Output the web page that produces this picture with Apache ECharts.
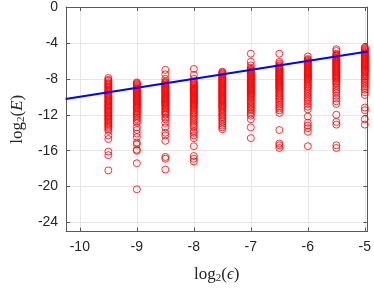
<!DOCTYPE html>
<html><head><meta charset="utf-8">
<script src="https://cdn.jsdelivr.net/npm/echarts@6/dist/echarts.min.js"></script>
<style>html,body{margin:0;padding:0;background:#fff}#c{width:374px;height:289px}</style>
</head><body><div id="c"></div>
<script>
// x positions (log2 eps) of each column
var xCols = [-9.5, -9, -8.5, -8, -7.5, -7, -6.5, -6, -5.5, -5];
// y values (log2 E) per column
var colA = [-7.9,-8.1,-8.2,-8.35,-8.5,-8.6,-8.7,-8.85,-8.95,-9.05,-9.2,-9.3,-9.4,-9.5,-9.65,-9.75,-9.85,-9.95,-10.05,-10.15,-10.3,-10.4,-10.5,-10.6,-10.7,-10.85,-10.95,-11.05,-11.15,-11.25,-11.4,-11.5,-11.6,-11.7,-11.8,-11.95,-12.05,-12.15,-12.25,-12.4,-12.5,-12.6,-12.75,-12.9,-13.0,-13.15,-13.3,-13.45,-13.6,-13.8,-14.3,-14.7,-16.1,-16.5,-18.2];
var colB = [-8.4,-8.5,-8.6,-8.7,-8.8,-8.9,-9.0,-9.1,-9.2,-9.3,-9.4,-9.5,-9.6,-9.7,-9.8,-9.9,-10.0,-10.1,-10.2,-10.3,-10.4,-10.5,-10.6,-10.7,-10.8,-10.9,-11.0,-11.1,-11.2,-11.3,-11.45,-11.6,-11.7,-11.85,-12.0,-12.15,-12.3,-12.5,-12.7,-12.9,-13.4,-13.7,-14.1,-14.5,-15.1,-15.3,-15.9,-16.0,-17.4,-20.3];
var colC = [-7.0,-7.5,-8.0,-8.3,-8.4,-8.5,-8.6,-8.7,-8.8,-8.9,-9.0,-9.1,-9.2,-9.3,-9.4,-9.5,-9.6,-9.7,-9.8,-9.9,-10.0,-10.1,-10.2,-10.3,-10.4,-10.5,-10.6,-10.7,-10.8,-10.9,-11.0,-11.15,-11.3,-11.45,-11.6,-11.75,-11.9,-12.0,-12.3,-12.5,-12.9,-13.4,-14.0,-14.3,-14.9,-16.7,-16.9,-18.1];
var colD = [-6.9,-7.55,-8.0,-8.3,-8.4,-8.5,-8.6,-8.7,-8.8,-8.9,-9.0,-9.1,-9.2,-9.3,-9.4,-9.5,-9.6,-9.7,-9.8,-9.9,-10.0,-10.1,-10.2,-10.3,-10.4,-10.5,-10.6,-10.7,-10.8,-10.9,-11.0,-11.1,-11.25,-11.4,-11.55,-11.7,-11.85,-12.0,-12.2,-12.4,-12.6,-12.8,-13.0,-13.2,-13.4,-13.8,-14.0,-14.3,-14.6,-15.5,-16.6,-16.9,-17.2];
var colE = [-7.2,-7.3,-7.4,-7.5,-7.6,-7.7,-7.8,-7.9,-8.0,-8.1,-8.2,-8.3,-8.4,-8.5,-8.6,-8.7,-8.8,-8.9,-9.0,-9.1,-9.2,-9.3,-9.4,-9.5,-9.6,-9.7,-9.8,-9.9,-10.0,-10.1,-10.2,-10.3,-10.4,-10.5,-10.6,-10.7,-10.8,-10.9,-11.0,-11.1,-11.2,-11.35,-11.5,-11.65,-11.8,-11.95,-12.1,-12.25,-12.4,-12.6,-12.8,-13.0,-13.2,-13.4,-13.6];
var colF = [-5.2,-6.1,-6.5,-6.8,-6.9,-7.0,-7.1,-7.2,-7.3,-7.4,-7.5,-7.6,-7.7,-7.8,-7.9,-8.0,-8.1,-8.2,-8.3,-8.4,-8.5,-8.6,-8.7,-8.8,-8.9,-9.0,-9.1,-9.2,-9.3,-9.4,-9.5,-9.6,-9.7,-9.8,-9.9,-10.0,-10.15,-10.3,-10.45,-10.6,-10.75,-10.9,-11.05,-11.2,-11.35,-11.5,-11.7,-11.9,-12.1,-12.5,-13.4,-14.6];
var colG = [-5.2,-6.1,-6.3,-6.5,-6.6,-6.7,-6.8,-6.9,-7.0,-7.1,-7.2,-7.3,-7.4,-7.5,-7.6,-7.7,-7.8,-7.9,-8.0,-8.1,-8.2,-8.3,-8.4,-8.5,-8.6,-8.7,-8.8,-8.9,-9.0,-9.1,-9.25,-9.4,-9.55,-9.7,-9.85,-10.0,-10.15,-10.3,-10.5,-10.7,-10.9,-11.1,-11.3,-11.5,-11.8,-13.7,-15.2,-15.4,-15.7];
var colH = [-5.5,-5.8,-5.9,-6.0,-6.1,-6.2,-6.3,-6.4,-6.5,-6.6,-6.7,-6.8,-6.9,-7.0,-7.1,-7.2,-7.3,-7.4,-7.5,-7.6,-7.7,-7.8,-7.9,-8.0,-8.1,-8.2,-8.35,-8.5,-8.65,-8.8,-8.95,-9.1,-9.3,-9.5,-9.7,-9.9,-10.1,-10.3,-10.5,-10.8,-11.1,-11.4,-12.2,-12.9,-13.2,-13.5,-13.9,-15.5];
var colI = [-4.7,-4.9,-5.2,-5.3,-5.4,-5.5,-5.6,-5.7,-5.8,-5.9,-6.0,-6.1,-6.2,-6.3,-6.4,-6.5,-6.6,-6.7,-6.8,-6.9,-7.0,-7.1,-7.2,-7.3,-7.4,-7.5,-7.6,-7.7,-7.8,-7.9,-8.0,-8.15,-8.3,-8.45,-8.6,-8.8,-9.0,-9.2,-9.4,-9.6,-9.9,-10.2,-10.5,-10.8,-12.0,-12.8,-13.1,-15.4,-15.7];
var colJ = [-4.5,-4.6,-4.7,-4.8,-4.9,-5.0,-5.1,-5.2,-5.3,-5.4,-5.5,-5.6,-5.7,-5.8,-5.9,-6.0,-6.1,-6.2,-6.3,-6.4,-6.5,-6.6,-6.7,-6.8,-6.9,-7.0,-7.1,-7.2,-7.3,-7.45,-7.6,-7.75,-7.9,-8.05,-8.2,-8.4,-8.6,-8.8,-9.0,-9.2,-9.5,-9.8,-11.2,-11.5,-12.5,-13.1];
var columns = [colA, colB, colC, colD, colE, colF, colG, colH, colI, colJ];
// reference line y = x
var lineX = [-10.25, -4.95];
var lineY = [-10.25, -4.95];
var xTicks = [-10, -9, -8, -7, -6, -5];
var yTicks = [-24, -20, -16, -12, -8, -4, 0];

var pts = [];
columns.forEach(function (col, i) {
  col.forEach(function (v) { pts.push([xCols[i], v]); });
});
var lineData = lineX.map(function (x, i) { return [x, lineY[i]]; });

var axisCol = '#5a5a5a';
var labelFont = {color: '#262626', fontSize: 14, fontFamily: 'Liberation Sans, Arial, sans-serif'};
function mkAxis(isX, pos, show, ticks, extra) {
  var a = {
    type: 'value', position: pos,
    axisLine: {show: true, onZero: false, lineStyle: {color: axisCol, width: 1}},
    axisTick: {show: true, inside: true, length: 4, customValues: ticks, lineStyle: {color: axisCol}},
    axisLabel: Object.assign({show: show, customValues: ticks}, labelFont),
    splitLine: {show: show, lineStyle: {color: '#e6e6e6', width: 1}}
  };
  return Object.assign(a, extra);
}
var serif = 'Liberation Serif, Times New Roman, serif';
var rich = {
  a: {fontFamily: serif, fontSize: 17, color: '#262626', lineHeight: 20},
  s: {fontFamily: serif, fontSize: 11, color: '#262626', lineHeight: 20, padding: [8, 0, 0, 0]},
  i: {fontFamily: serif, fontSize: 17, fontStyle: 'italic', color: '#262626', lineHeight: 20}
};

var chart = echarts.init(document.getElementById('c'), null, {renderer: 'canvas'});
chart.setOption({
  animation: false,
  grid: {left: 60, right: 5, top: 6, bottom: 49, containLabel: false},
  xAxis: [
    mkAxis(true, 'bottom', true, xTicks, {min: -10.24, max: -4.955,
      axisLabel: Object.assign({show: true, customValues: xTicks, margin: 9}, labelFont),
      name: '{a|log}{s|2}{a|(}{i|ϵ}{a|)}', nameLocation: 'middle', nameGap: 33,
      nameTextStyle: {rich: rich}}),
    mkAxis(true, 'top', false, xTicks, {min: -10.24, max: -4.955})
  ],
  yAxis: [
    mkAxis(false, 'left', true, yTicks, {min: -25, max: 0,
      axisLabel: Object.assign({show: true, customValues: yTicks, margin: 8}, labelFont),
      name: '{a|log}{s|2}{a|(}{i|E}{a|)}', nameLocation: 'middle', nameGap: 34,
      nameTextStyle: {rich: rich}}),
    mkAxis(false, 'right', false, yTicks, {min: -25, max: 0})
  ],
  series: [
    {type: 'scatter', data: pts, symbol: 'circle', symbolSize: 7, clip: false,
     itemStyle: {color: 'rgba(0,0,0,0)', borderColor: '#ff0000', borderWidth: 1}},
    {type: 'line', data: lineData, symbol: 'none', clip: true,
     lineStyle: {color: '#0000ff', width: 2}}
  ]
});
</script>
</body></html>
